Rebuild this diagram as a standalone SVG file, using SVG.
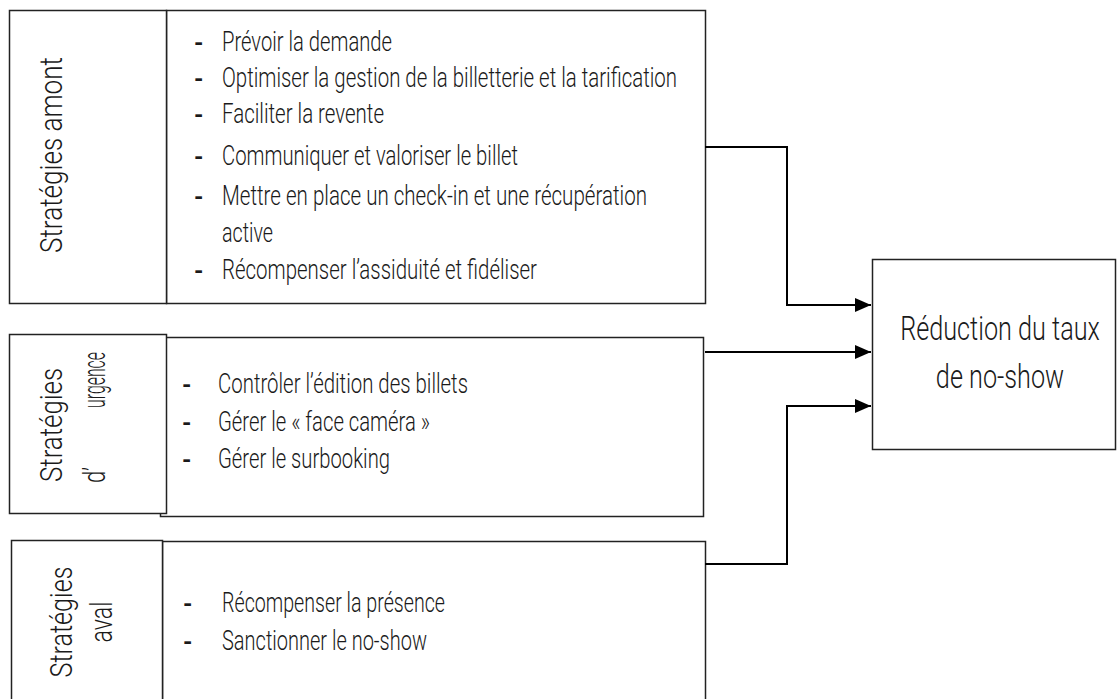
<svg xmlns="http://www.w3.org/2000/svg" width="1117" height="699" viewBox="0 0 1117 699">
<defs>
<style>
.box{fill:#fff;stroke:#222;stroke-width:1.5}
.t{font-family:Roboto,"Liberation Sans",sans-serif;font-weight:300;font-size:27px;fill:#1a1a1a}
.d{font-family:Roboto,"Liberation Sans",sans-serif;font-weight:700;font-size:24px;fill:#1a1a1a}
.lab{font-family:Roboto,"Liberation Sans",sans-serif;font-weight:300;font-size:31px;fill:#1a1a1a}
.title{font-family:Roboto,"Liberation Sans",sans-serif;font-weight:300;font-size:33px;fill:#1a1a1a;text-anchor:middle}
.c{fill:none;stroke:#000;stroke-width:2}
</style>
<marker id="ah" markerUnits="userSpaceOnUse" markerWidth="17" markerHeight="14" refX="16" refY="7" orient="auto">
<path d="M0,0 L16,7 L0,14 Z" fill="#000"/>
</marker>
</defs>
<rect width="1117" height="699" fill="#fff"/>

<g id="amont">
<rect class="box" x="166.5" y="10.5" width="539" height="293"/>
<rect class="box" x="9.5" y="10.5" width="157" height="293"/>
<text class="lab" transform="translate(62,155) rotate(-90)" text-anchor="middle" textLength="196" lengthAdjust="spacingAndGlyphs">Stratégies amont</text>
<text class="d" x="194" y="51">-</text>
<text class="d" x="194" y="87">-</text>
<text class="d" x="194" y="123">-</text>
<text class="d" x="194" y="165">-</text>
<text class="d" x="194" y="205">-</text>
<text class="d" x="194" y="279">-</text>
<text class="t" x="222" y="51" textLength="170" lengthAdjust="spacingAndGlyphs">Prévoir la demande</text>
<text class="t" x="222" y="87" textLength="455" lengthAdjust="spacingAndGlyphs">Optimiser la gestion de la billetterie et la tarification</text>
<text class="t" x="222" y="123" textLength="162" lengthAdjust="spacingAndGlyphs">Faciliter la revente</text>
<text class="t" x="222" y="165" textLength="296" lengthAdjust="spacingAndGlyphs">Communiquer et valoriser le billet</text>
<text class="t" x="222" y="205" textLength="425" lengthAdjust="spacingAndGlyphs">Mettre en place un check-in et une récupération</text>
<text class="t" x="222" y="242" textLength="51" lengthAdjust="spacingAndGlyphs">active</text>
<text class="t" x="222" y="279" textLength="315" lengthAdjust="spacingAndGlyphs">Récompenser l’assiduité et fidéliser</text>
</g>

<g id="urgence">
<rect class="box" x="160.5" y="337.5" width="543" height="179"/>
<rect class="box" x="9.5" y="334.5" width="157" height="179"/>
<text class="lab" transform="translate(62,482) rotate(-90)" textLength="114" lengthAdjust="spacingAndGlyphs">Stratégies</text>
<text class="lab" transform="translate(105,483) rotate(-90)" textLength="16" lengthAdjust="spacingAndGlyphs">d’</text>
<text class="lab" transform="translate(105,408) rotate(-90)" textLength="56" lengthAdjust="spacingAndGlyphs">urgence</text>
<text class="d" x="182" y="393">-</text>
<text class="d" x="182" y="431">-</text>
<text class="d" x="182" y="468">-</text>
<text class="t" x="218" y="393" textLength="250" lengthAdjust="spacingAndGlyphs">Contrôler l’édition des billets</text>
<text class="t" x="218" y="431" textLength="212" lengthAdjust="spacingAndGlyphs">Gérer le « face caméra »</text>
<text class="t" x="218" y="468" textLength="172" lengthAdjust="spacingAndGlyphs">Gérer le surbooking</text>
</g>

<g id="aval">
<rect class="box" x="162.5" y="541.5" width="543" height="170"/>
<rect class="box" x="11.5" y="540.5" width="151" height="170"/>
<text class="lab" transform="translate(72,622) rotate(-90)" text-anchor="middle" textLength="111" lengthAdjust="spacingAndGlyphs">Stratégies</text>
<text class="lab" transform="translate(112,622) rotate(-90)" text-anchor="middle" textLength="41" lengthAdjust="spacingAndGlyphs">aval</text>
<text class="d" x="183" y="612">-</text>
<text class="d" x="183" y="650">-</text>
<text class="t" x="222" y="612" textLength="223" lengthAdjust="spacingAndGlyphs">Récompenser la présence</text>
<text class="t" x="222" y="650" textLength="205" lengthAdjust="spacingAndGlyphs">Sanctionner le no-show</text>
</g>

<g id="reduction">
<rect class="box" x="872.5" y="259.5" width="243" height="190"/>
<text class="title" transform="translate(1000,340) scale(0.765,1)">Réduction du taux</text>
<text class="title" transform="translate(1000,388) scale(0.765,1)">de no-show</text>
</g>

<g id="connectors">
<path class="c" d="M705,147 H787 V305 H871" marker-end="url(#ah)"/>
<path class="c" d="M705,352 H871" marker-end="url(#ah)"/>
<path class="c" d="M705,564 H787 V406 H871" marker-end="url(#ah)"/>
</g>
</svg>
